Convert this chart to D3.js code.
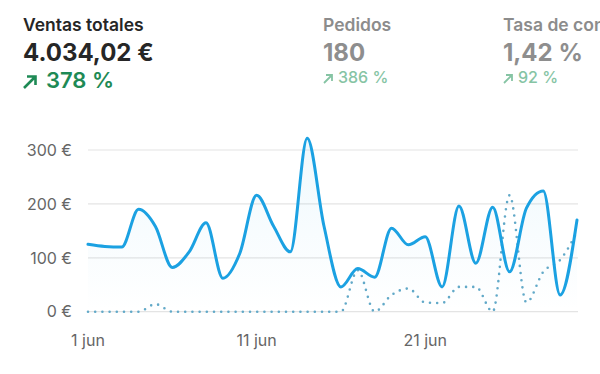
<!DOCTYPE html>
<html>
<head>
<meta charset="utf-8">
<style>
  body { margin: 0; background: #fff; }
  svg { display: block; font-family: Inter, "Open Sans", sans-serif; }
  .grid line { stroke: #e4e4e4; stroke-width: 1.2; }
  .axis text { fill: #666; font-size: 16px; }
</style>
</head>
<body>
<svg width="600" height="374"></svg>
<script src="https://d3js.org/d3.v7.min.js"></script>
<script>
// days of June
var days = d3.range(1, 31);
// current period sales (EUR)
var ventas = [125, 121, 120, 190, 158, 82, 111, 165, 62, 108,
              216, 159, 111, 322, 158, 46, 80, 64, 155, 124,
              139, 46, 196, 90, 194, 74, 192, 224, 31, 170];
// previous period sales (EUR)
var ventasPrev = [0, 0, 0, 0, 14, 0, 0, 0, 0, 0,
                  0, 0, 0, 0, 0, 0, 77, 0, 31, 43,
                  17, 16, 46, 46, 0, 216, 17, 74, 96, 148];
var yTicks = [0, 100, 200, 300];
var xTicks = [1, 11, 21];

var metrics = [
  {label: "Ventas totales", value: "4.034,02 €", change: "378 %", x: 23, active: true},
  {label: "Pedidos", value: "180", change: "386 %", x: 323, active: false},
  {label: "Tasa de conversión", value: "1,42 %", change: "92 %", x: 503, active: false}
];

var svg = d3.select("svg");

var x = d3.scaleLinear().domain([1, 30]).range([88, 577]);
var y = d3.scaleLinear().domain([0, 300]).range([311.7, 150]);

// header metrics
var m = svg.append("g").selectAll("g").data(metrics).enter().append("g")
    .attr("transform", function(d) { return "translate(" + d.x + ",0)"; });
m.append("text")
    .attr("y", 31)
    .attr("font-size", 17.5)
    .attr("font-weight", 600)
    .attr("fill", function(d) { return d.active ? "#262626" : "#8c8c8c"; })
    .text(function(d) { return d.label; });
m.append("text")
    .attr("y", 61)
    .attr("font-size", 24)
    .attr("font-weight", 700)
    .attr("fill", function(d) { return d.active ? "#262626" : "#8e8e8e"; })
    .text(function(d) { return d.value; });
m.append("path")
    .attr("d", function(d) { return d.active ? "M1,88 L12,77 M4,76.5 L12.5,76.5 L12.5,85" : "M1,83 L8.5,75.5 M3,75 L9,75 L9,81"; })
    .attr("fill", "none")
    .attr("stroke", function(d) { return d.active ? "#1e8a55" : "#86c4a4"; })
    .attr("stroke-width", function(d) { return d.active ? 2.6 : 1.8; });
m.append("text")
    .attr("x", function(d) { return d.active ? 23 : 15; })
    .attr("y", function(d) { return d.active ? 88 : 83; })
    .attr("font-size", function(d) { return d.active ? 22 : 16; })
    .attr("font-weight", function(d) { return d.active ? 600 : 500; })
    .attr("fill", function(d) { return d.active ? "#1e8a55" : "#86c4a4"; })
    .text(function(d) { return d.change; });

// grid
svg.append("g").attr("class", "grid")
  .selectAll("line").data(yTicks).enter().append("line")
    .attr("x1", 88).attr("x2", 578)
    .attr("y1", function(d) { return y(d); })
    .attr("y2", function(d) { return y(d); });

// y labels
svg.append("g").attr("class", "axis")
  .selectAll("text").data(yTicks).enter().append("text")
    .attr("x", 72)
    .attr("y", function(d) { return y(d); })
    .attr("dy", "0.36em")
    .attr("text-anchor", "end")
    .text(function(d) { return d + " €"; });

// x labels
svg.append("g").attr("class", "axis")
  .selectAll("text").data(xTicks).enter().append("text")
    .attr("x", function(d) { return x(d); })
    .attr("y", 346)
    .attr("text-anchor", "middle")
    .text(function(d) { return d + " jun"; });

var grad = svg.append("defs").append("linearGradient")
    .attr("id", "fill").attr("x1", 0).attr("x2", 0).attr("y1", 0).attr("y2", 1);
grad.append("stop").attr("offset", "0%").attr("stop-color", "#1ba1e2").attr("stop-opacity", 0.07);
grad.append("stop").attr("offset", "100%").attr("stop-color", "#1ba1e2").attr("stop-opacity", 0.0);

var area = d3.area()
    .x(function(d, i) { return x(days[i]); })
    .y0(y(0))
    .y1(function(d) { return y(d); })
    .curve(d3.curveMonotoneX);
var line = d3.line()
    .x(function(d, i) { return x(days[i]); })
    .y(function(d) { return y(d); })
    .curve(d3.curveMonotoneX);

svg.append("path").datum(ventas)
    .attr("d", area)
    .attr("fill", "url(#fill)");

svg.append("path").datum(ventasPrev)
    .attr("d", line)
    .attr("fill", "none")
    .attr("stroke", "#62a9c8")
    .attr("stroke-width", 2.6)
    .attr("stroke-linecap", "round")
    .attr("stroke-dasharray", "0,7.2");

svg.append("path").datum(ventas)
    .attr("d", line)
    .attr("fill", "none")
    .attr("stroke", "#1ba1e2")
    .attr("stroke-width", 3)
    .attr("stroke-linejoin", "round")
    .attr("stroke-linecap", "round");
</script>
</body>
</html>
